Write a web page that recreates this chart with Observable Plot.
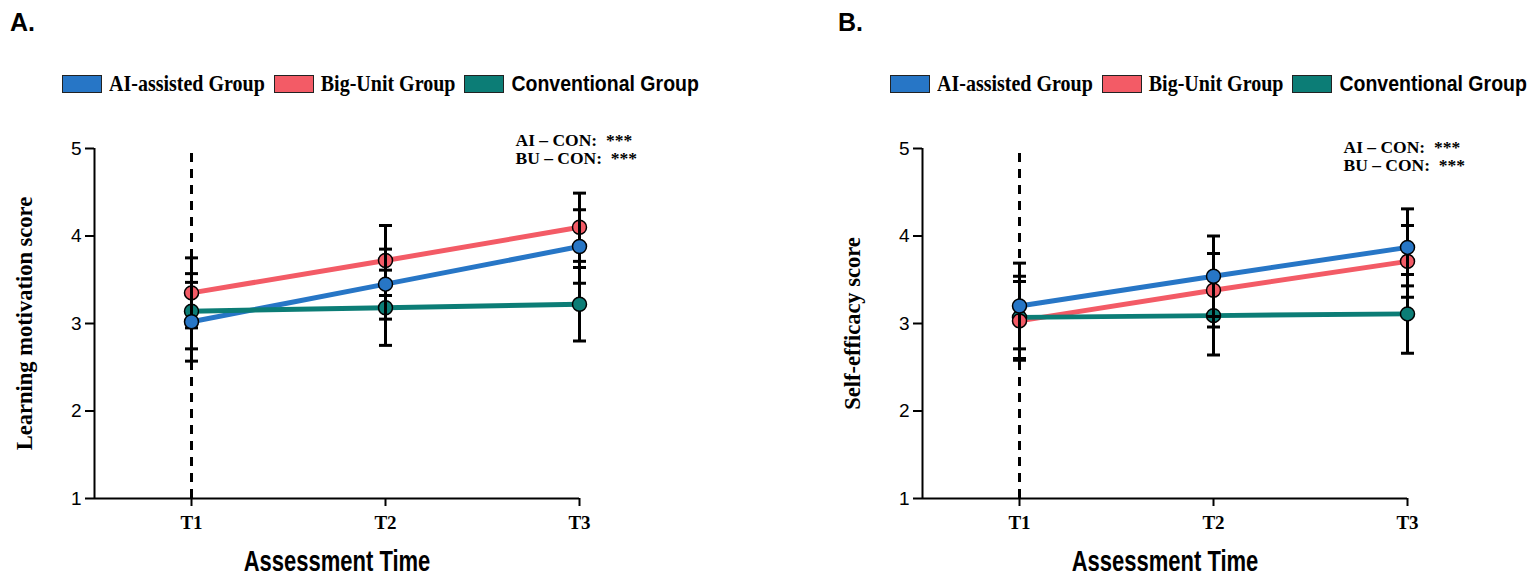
<!DOCTYPE html>
<html>
<head>
<meta charset="utf-8">
<script src="https://cdn.jsdelivr.net/npm/d3@7"></script>
<script src="https://cdn.jsdelivr.net/npm/@observablehq/plot@0.6"></script>
<style>
  body { margin: 0; background: #fff; width: 1535px; height: 583px; overflow: hidden; position: relative; }
  .panel { position: absolute; top: 0; width: 707px; height: 583px; }
  #panelA { left: 0; }
  #panelB { left: 828px; }
  .tag { position: absolute; left: 10px; top: 8px; font: bold 25px "Liberation Sans", Arial, sans-serif; color: #000; }
  .legend { position: absolute; top: 72px; left: 62px; display: flex; align-items: center; white-space: nowrap; color: #000; }
  .sw { width: 38px; height: 16px; border: 1px solid #222; margin-right: 7px; }
  .lab { margin-right: 9px; display: inline-block; transform: scaleY(1.15); }
  .serif { font: bold 20px "Liberation Serif", "Times New Roman", serif; }
  .sans { font: bold 19.5px "Liberation Sans", Arial, sans-serif; }
  .chart { position: absolute; left: 0; top: 110px; }
</style>
</head>
<body>
<div class="panel" id="panelA"></div>
<div class="panel" id="panelB"></div>
<script>
// ---- data ----
const timeCodes = [1, 2, 3];
const timeLabels = ["T1", "T2", "T3"];
const groups = ["AI-assisted Group", "Big-Unit Group", "Conventional Group"];
const groupColors = ["#2776c6", "#f35b66", "#0c7d76"];
const legendFonts = ["serif", "serif", "sans"];
const drawOrder = ["Conventional Group", "Big-Unit Group", "AI-assisted Group"];
const yDomain = [1, 5];
const yTicks = [1, 2, 3, 4, 5];
const xDomain = [0.5, 3];
const xAxisLabel = "Assessment Time";
const annotations = ["AI \u2013 CON:\u00a0\u00a0***", "BU \u2013 CON:\u00a0\u00a0***"];

// Panel A: learning motivation (mean, SD) per group at T1, T2, T3
const motivationAI = [3.02, 3.45, 3.88];
const motivationBU = [3.35, 3.72, 4.10];
const motivationCON = [3.14, 3.18, 3.22];
const motivationSdAI = [0.45, 0.40, 0.42];
const motivationSdBU = [0.40, 0.40, 0.39];
const motivationSdCON = [0.43, 0.43, 0.42];

// Panel B: self-efficacy (mean, SD)
const efficacyAI = [3.20, 3.54, 3.87];
const efficacyBU = [3.03, 3.38, 3.71];
const efficacyCON = [3.07, 3.09, 3.11];
const efficacySdAI = [0.49, 0.46, 0.44];
const efficacySdBU = [0.45, 0.42, 0.41];
const efficacySdCON = [0.47, 0.45, 0.45];

const panels = [
  { id: "panelA", tag: "A.", yLabel: "Learning motivation score",
    means: [motivationAI, motivationBU, motivationCON],
    sds: [motivationSdAI, motivationSdBU, motivationSdCON], annoDy: -8 },
  { id: "panelB", tag: "B.", yLabel: "Self-efficacy score",
    means: [efficacyAI, efficacyBU, efficacyCON],
    sds: [efficacySdAI, efficacySdBU, efficacySdCON], annoDy: -1 }
];

const serif = '"Liberation Serif", "Times New Roman", serif';
const sans = '"Liberation Sans", Arial, sans-serif';
const capSymbol = { draw(ctx, size) { const r = Math.sqrt(size / Math.PI); ctx.moveTo(-r, 0); ctx.lineTo(r, 0); } };

function build(spec) {
  const host = document.getElementById(spec.id);
  const tag = document.createElement("div");
  tag.className = "tag"; tag.textContent = spec.tag; host.appendChild(tag);

  const legend = document.createElement("div");
  legend.className = "legend";
  groups.forEach((g, i) => {
    const sw = document.createElement("div");
    sw.className = "sw"; sw.style.background = groupColors[i];
    const lab = document.createElement("span");
    lab.className = "lab " + legendFonts[i]; lab.textContent = g;
    legend.appendChild(sw); legend.appendChild(lab);
  });
  host.appendChild(legend);

  const data = [];
  groups.forEach((g, gi) => timeCodes.forEach((t, ti) =>
    data.push({ group: g, time: t, mean: spec.means[gi][ti], sd: spec.sds[gi][ti] })));

  const marks = [
    Plot.ruleX([timeCodes[0]], { y1: yDomain[0], y2: yDomain[1], stroke: "#000", strokeWidth: 3, strokeDasharray: "9,7" }),
    Plot.ruleX([xDomain[0]], { stroke: "#000", strokeWidth: 2 }),
    Plot.ruleY([yDomain[0]], { stroke: "#000", strokeWidth: 2 }),
    Plot.axisY({ ticks: yTicks, tickSize: 9, tickPadding: 4, strokeWidth: 2, fontSize: 19, fontFamily: sans, label: null, tickFormat: d => String(d) }),
    Plot.axisX({ ticks: timeCodes, tickSize: 8, tickPadding: 9, strokeWidth: 2, fontSize: 19, fontFamily: serif, fontWeight: "bold", label: null,
      tickFormat: d => timeLabels[timeCodes.indexOf(d)] }),
    Plot.line(data, { x: "time", y: "mean", stroke: "group", z: "group", strokeWidth: 5 })
  ];
  drawOrder.forEach(g => {
    const sub = data.filter(d => d.group === g);
    marks.push(
      Plot.ruleX(sub, { x: "time", y1: d => d.mean - d.sd, y2: d => d.mean + d.sd, stroke: "#000", strokeWidth: 3 }),
      Plot.dot(sub, { x: "time", y: d => d.mean + d.sd, symbol: capSymbol, r: 6.5, stroke: "#000", strokeWidth: 3, fill: "none" }),
      Plot.dot(sub, { x: "time", y: d => d.mean - d.sd, symbol: capSymbol, r: 6.5, stroke: "#000", strokeWidth: 3, fill: "none" }),
      Plot.dot(sub, { x: "time", y: "mean", fill: "group", r: 7, stroke: "#000", strokeWidth: 1.5 })
    );
  });
  marks.push(
    Plot.text([annotations[0]], { text: d => d, frameAnchor: "top-left", textAnchor: "start", lineAnchor: "middle", dx: 421, dy: spec.annoDy, fontFamily: serif, fontWeight: "bold", fontSize: 17.5, fill: "#000" }),
    Plot.text([annotations[1]], { text: d => d, frameAnchor: "top-left", textAnchor: "start", lineAnchor: "middle", dx: 421, dy: spec.annoDy + 18, fontFamily: serif, fontWeight: "bold", fontSize: 17.5, fill: "#000" }),
    Plot.text([spec.yLabel], { text: d => d, frameAnchor: "left", textAnchor: "middle", lineAnchor: "middle", rotate: -90, dx: -70, fontFamily: serif, fontWeight: "bold", fontSize: 22.5, fill: "#000" }),
    Plot.text([xAxisLabel], { text: d => d, frameAnchor: "bottom", textAnchor: "middle", lineAnchor: "middle", dy: 63, fontFamily: sans, fontWeight: "bold", fontSize: 22, fill: "#000" })
  );

  const svg = Plot.plot({
    width: 707, height: 473,
    marginLeft: 94, marginRight: 128, marginTop: 38, marginBottom: 85,
    x: { type: "linear", domain: xDomain },
    y: { domain: yDomain },
    color: { domain: groups, range: groupColors },
    style: { background: "white", color: "black", overflow: "visible" },
    marks
  });
  svg.classList.add("chart");
  const yTickStrings = yTicks.map(String);
  svg.querySelectorAll("text").forEach(t => {
    const s = t.textContent;
    if (s === xAxisLabel) {
      // vertically stretch the x-axis title to match the tall, condensed lettering of the original
      const tr = t.getAttribute("transform") || "";
      t.setAttribute("transform", tr + " scale(1,1.3)");
    } else if (yTickStrings.includes(s)) {
      t.style.fontSize = "19px";
      t.style.fontFamily = sans;
    } else if (timeLabels.includes(s)) {
      t.style.fontSize = "19px";
      t.style.fontFamily = serif;
      t.style.fontWeight = "bold";
    }
  });
  host.appendChild(svg);
}
panels.forEach(build);
</script>
</body>
</html>
